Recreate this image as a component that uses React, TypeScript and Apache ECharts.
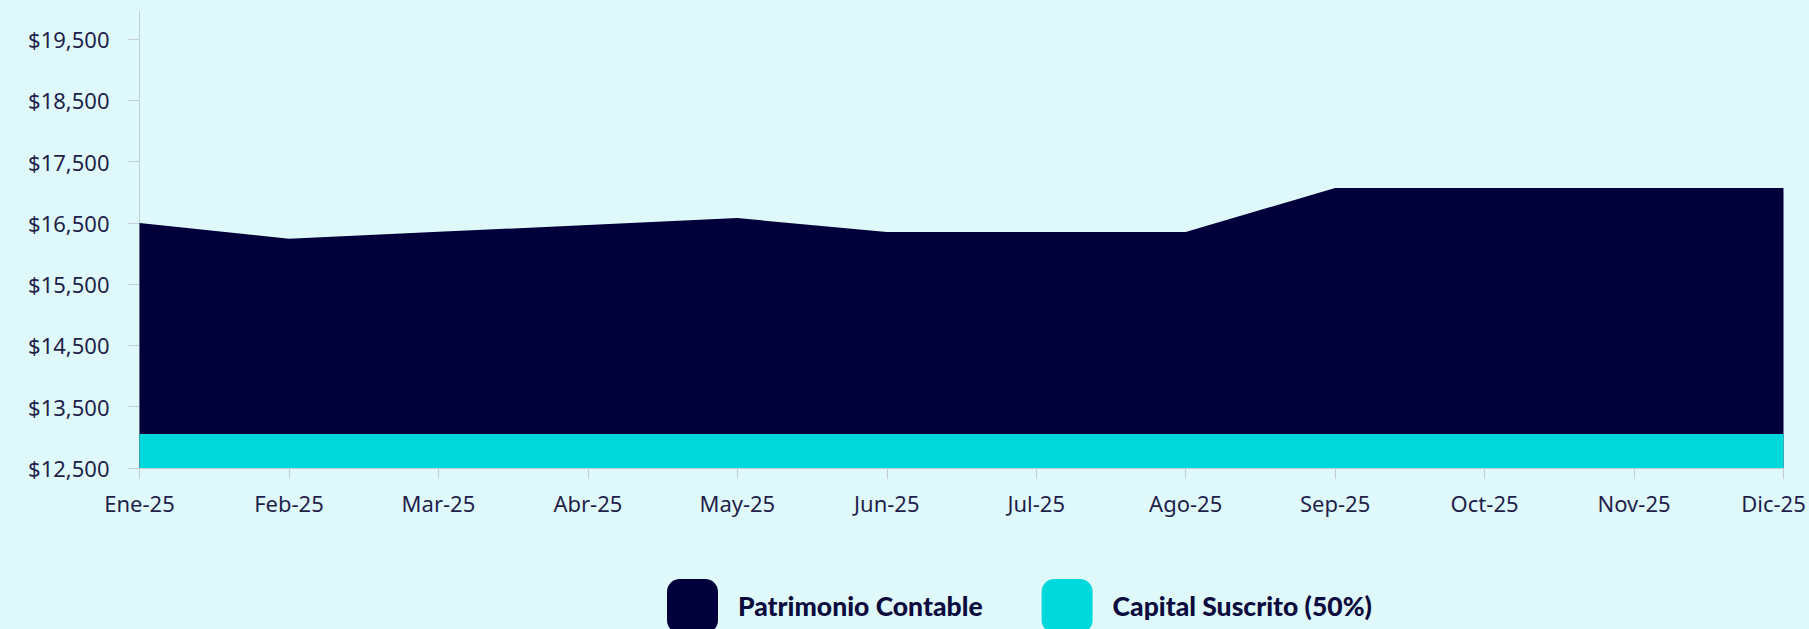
import React, { useEffect, useRef } from "react";
import * as echarts from "echarts";

const months = ["Ene-25", "Feb-25", "Mar-25", "Abr-25", "May-25", "Jun-25", "Jul-25", "Ago-25", "Sep-25", "Oct-25", "Nov-25", "Dic-25"];
const patrimonio = [16500, 16243, 16355, 16465, 16578, 16353, 16353, 16353, 17068, 17068, 17068, 17068];
const capital = [13055, 13055, 13055, 13055, 13055, 13055, 13055, 13055, 13055, 13055, 13055, 13055];
const yTicks = [12500, 13500, 14500, 15500, 16500, 17500, 18500, 19500];

const BG = "#dff9fa";
const DARK = "#02003a";
const CYAN = "#00d9db";
const TEXT = "#1f1f4b";
const AXIS = "#c3cdd6";

export default function App() {
  const ref = useRef<HTMLDivElement>(null);
  useEffect(() => {
    document.body.style.margin = "0";
    document.body.style.background = BG;
    const chart = echarts.init(ref.current!, null, { renderer: "svg" });
    const last = months[months.length - 1];
    chart.setOption({
      animation: false,
      backgroundColor: BG,
      grid: { left: 139.5, right: 25.5, top: 11.5, bottom: 161, outerBoundsMode: "none", containLabel: false },
      legend: {
        left: 667,
        top: 579,
        padding: 0,
        itemWidth: 51,
        itemHeight: 54,
        itemGap: 59,
        icon: "roundRect",
        textStyle: {
          fontFamily: "Lato",
          fontWeight: 900,
          fontSize: 26.5,
          color: "#0c0b3e",
          padding: [0, 0, 0, 15],
        },
        data: ["Patrimonio Contable", "Capital Suscrito (50%)"],
      },
      xAxis: {
        type: "category",
        data: months,
        boundaryGap: false,
        axisLine: { lineStyle: { color: AXIS, width: 1 } },
        axisTick: { length: 11, lineStyle: { color: AXIS }, alignWithLabel: true, interval: 0 },
        axisLabel: {
          interval: 0,
          hideOverlap: false,
          fontFamily: "Noto Sans",
          fontSize: 22,
          color: TEXT,
          margin: 24,
          formatter: (v: string) => (v === last ? "{last|" + v + "}" : v),
          rich: {
            last: { fontFamily: "Noto Sans", fontSize: 22, color: TEXT, padding: [0, 20, 0, 0] },
          },
        },
        splitLine: { show: false },
      },
      yAxis: {
        type: "value",
        min: 12500,
        max: 19950,
        interval: 1000,
        axisLine: { show: true, lineStyle: { color: AXIS, width: 1 } },
        axisTick: { show: true, length: 11, lineStyle: { color: AXIS }, customValues: yTicks },
        axisLabel: {
          fontFamily: "Noto Sans",
          fontSize: 22,
          color: TEXT,
          margin: 30,
          customValues: yTicks,
          formatter: (v: number) => "$" + v.toLocaleString("en-US"),
        },
        splitLine: { show: false },
      },
      series: [
        {
          name: "Patrimonio Contable",
          type: "line",
          data: patrimonio,
          symbol: "none",
          lineStyle: { width: 0 },
          itemStyle: { color: DARK },
          areaStyle: { color: DARK, opacity: 1, origin: "start" },
        },
        {
          name: "Capital Suscrito (50%)",
          type: "line",
          data: capital,
          symbol: "none",
          lineStyle: { width: 0 },
          itemStyle: { color: CYAN },
          areaStyle: { color: CYAN, opacity: 1, origin: "start" },
        },
      ],
    });
    return () => chart.dispose();
  }, []);
  return <div ref={ref} style={{ width: 1809, height: 629 }} />;
}
